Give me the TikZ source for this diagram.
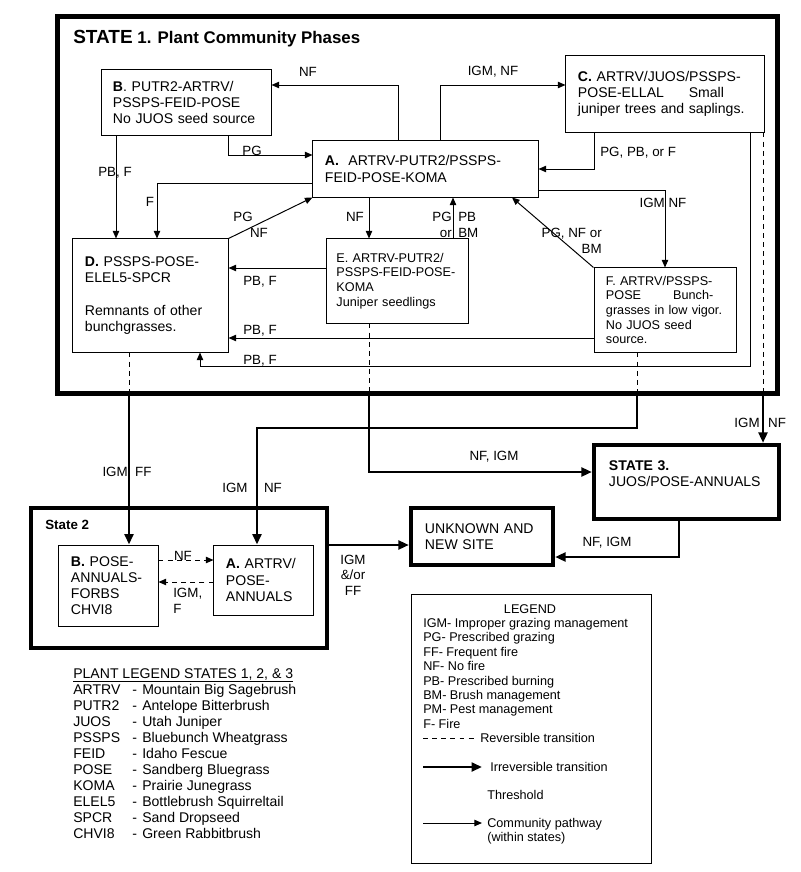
\documentclass[tikz,border=0pt]{standalone}
\usepackage{fontspec}
\setmainfont{Liberation Sans}
\usetikzlibrary{arrows.meta,calc}

\tikzset{
  phase/.style={draw, line width=0.7pt, rectangle, align=left, font=\fontsize{10}{11.5}\selectfont},
  smallphase/.style={phase, font=\fontsize{9}{10.4}\selectfont},
  statebox/.style={draw, rectangle, line width=3pt},
  pathway/.style={line width=0.7pt, ->},
  irrev/.style={line width=1.8pt, -{Triangle[length=2.6mm,width=2.2mm]}},
  revers/.style={line width=0.7pt, dash pattern=on 3.5pt off 3pt},
  lbl/.style={inner sep=0pt, font=\fontsize{9.5}{11}\selectfont},
  leg/.style={inner sep=0pt, font=\fontsize{9}{10.25}\selectfont},
  plant/.style={anchor=base west, inner sep=0pt, font=\fontsize{10}{11.5}\selectfont}
}

\begin{document}
\begin{tikzpicture}[x=0.025cm, y=-0.025cm, >={Triangle[length=1.9mm,width=1.6mm]}]
  \useasboundingbox (0,0) rectangle (800,872);

  % State 1
  \node[statebox, line width=3.5pt, minimum width=17.975cm, minimum height=9.4cm] (S1) at (417.5,205) {};
  \node[anchor=base west, inner sep=0pt, font=\bfseries\fontsize{12}{14}\selectfont] (S1title) at (73,44)
    {{\fontsize{13.5}{14}\selectfont STATE} 1. Plant Community Phases};

  \node[phase, text width=3.675cm, inner xsep=0.275cm, minimum height=1.625cm] (B) at (186.5,102.5)
    {\textbf{B}. PUTR2-ARTRV/\\PSSPS-FEID-POSE\\No JUOS seed source};
  \node[phase, text width=5.025cm, inner xsep=0.3cm, minimum height=1.4cm] (A) at (425.5,169)
    {\textbf{A.}\ \ ARTRV-PUTR2/PSSPS-\\FEID-POSE-KOMA};
  \node[phase, text width=4.35cm, inner xsep=0.3cm, minimum height=1.9cm] (C) at (665,94)
    {\textbf{C.} ARTRV/JUOS/PSSPS-\\POSE-ELLAL\hspace{0.62cm}Small\\juniper trees and saplings.};
  \node[phase, text width=3.275cm, inner xsep=0.3cm, minimum height=2.825cm] (D) at (150.5,295.5)
    {\textbf{D.} PSSPS-POSE-\\ELEL5-SPCR\\[11.5pt]Remnants of other\\bunchgrasses.};
  \node[smallphase, text width=3.05cm, inner xsep=0.2375cm, minimum height=2.1cm] (E) at (397.5,281)
    {E. ARTRV-PUTR2/\\PSSPS-FEID-POSE-\\KOMA\\Juniper seedlings};
  \node[smallphase, text width=2.95cm, inner xsep=0.3cm, minimum height=2.1cm] (F) at (665,310)
    {F. ARTRV/PSSPS-\\POSE\hspace{0.8cm}Bunch-\\grasses in low vigor.\\No JUOS seed\\source.};

  % pathways within state 1
  \coordinate (ab) at (398,85);
  \draw[pathway] (A.north -| ab) -- (ab) -- (B.east |- ab);
  \node[lbl] (lab) at (308,72) {NF};
  \coordinate (ac) at (440,85);
  \draw[pathway] (A.north -| ac) -- (ac) -- (C.west |- ac);
  \node[lbl] (lac) at (493,72) {IGM, NF};
  \coordinate (ba) at (228,155);
  \draw[pathway] (B.south -| ba) -- (ba) -- (A.west |- ba);
  \node[lbl] (lba) at (252,151) {PG};
  \coordinate (bd) at (116,200);
  \draw[pathway] (B.south -| bd) -- (D.north -| bd);
  \node[lbl] (lbd) at (115,173) {PB, F};
  \coordinate (ad) at (157,183);
  \draw[pathway] (A.west |- ad) -- (ad) -- (D.north -| ad);
  \node[lbl] (lad) at (150,202) {F};
  \draw[pathway] (D.north east) -- (A.south west);
  \node[lbl] (lda1) at (243,217) {PG};
  \node[lbl] (lda2) at (259,233) {NF};
  \coordinate (ae) at (369,220);
  \draw[pathway] (A.south -| ae) -- (E.north -| ae);
  \node[lbl] (lae) at (355,217) {NF};
  \coordinate (ea) at (453,220);
  \draw[pathway] (E.north -| ea) -- (A.south -| ea);
  \node[lbl, anchor=east, align=right] (lea1) at (452,225) {PG\\or};
  \node[lbl, anchor=west, align=left] (lea2) at (458,225) {PB\\BM};
  \coordinate (ca) at (594,169);
  \draw[pathway] (C.south -| ca) -- (ca) -- (A.east |- ca);
  \node[lbl, anchor=west] (lca) at (600,153) {PG, PB, or F};
  \coordinate (af) at (665,190);
  \draw[pathway] (A.east |- af) -- (af) -- (F.north);
  \node[lbl] (laf) at (663,203) {IGM NF};
  \coordinate (fa) at (512,200);
  \draw[pathway] (F.north west) -- (A.south -| fa);
  \node[lbl, anchor=east, align=right] (lfa) at (602,241) {PG, NF or\\BM};
  \coordinate (ed) at (300,268);
  \draw[pathway] (E.west |- ed) -- (D.east |- ed);
  \node[lbl] (led) at (260,282) {PB, F};
  \coordinate (fd) at (300,338);
  \draw[pathway] (F.west |- fd) -- (D.east |- fd);
  \node[lbl] (lfd) at (260,331) {PB, F};
  \coordinate (cd1) at (750,366);
  \coordinate (cd2) at (200,366);
  \draw[pathway] (C.south -| cd1) -- (cd1) -- (cd2) -- (D.south -| cd2);
  \node[lbl] (lcd) at (260,361) {PB, F};

  % State 2
  \node[statebox, minimum width=7.4cm, minimum height=3.5cm] (S2) at (179,578) {};
  \node[anchor=base west, inner sep=0pt, font=\bfseries\fontsize{9.5}{11}\selectfont] (S2title) at (45,529) {State 2};
  \node[phase, text width=1.875cm, inner xsep=0.3cm, minimum height=2.025cm] (B2) at (108.5,585.5)
    {\textbf{B.} POSE-\\ANNUALS-\\FORBS\\CHVI8};
  \node[phase, text width=1.875cm, inner xsep=0.3cm, minimum height=1.75cm] (A2) at (263.5,580)
    {\textbf{A.} ARTRV/\\POSE-\\ANNUALS};
  \coordinate (d1) at (185,560);
  \coordinate (d2) at (185,582);
  \draw[revers, ->] (B2.east |- d1) -- (A2.west |- d1);
  \node[lbl] (ld1) at (183,556) {NF};
  \draw[revers, ->] (A2.west |- d2) -- (B2.east |- d2);
  \node[lbl, anchor=west, align=left] (ld2) at (173,601) {IGM,\\F};

  % State 3 and unknown site
  \node[statebox, text width=3.875cm, inner xsep=0.375cm, minimum height=1.85cm, align=left,
        font=\fontsize{10}{11.5}\selectfont] (S3) at (686.5,482)
    {\textbf{STATE 3.}\\JUOS/POSE-ANNUALS\\\mbox{}};
  \node[statebox, text width=2.85cm, inner xsep=0.35cm, minimum height=1.425cm, align=left,
        font=\fontsize{10}{11.5}\selectfont] (U) at (482,536.5)
    {UNKNOWN AND\\NEW SITE};

  % transitions
  \coordinate (tD) at (129,393);
  \draw[revers] (D.south -| tD) -- (tD);
  \draw[irrev] (tD) -- (B2.north -| tD);
  \node[lbl] (ltD) at (127,473) {IGM, FF};
  \coordinate (tE) at (369,393);
  \coordinate (tE2) at (369,472);
  \draw[revers] (E.south -| tE) -- (tE);
  \draw[irrev] (tE) -- (tE2) -- (S3.west |- tE2);
  \node[lbl] (ltE) at (494,457) {NF, IGM};
  \coordinate (tF) at (637,393);
  \coordinate (tF2) at (637,428);
  \coordinate (tF3) at (257,428);
  \draw[revers] (F.south -| tF) -- (tF);
  \draw[irrev] (tF) -- (tF2) -- (tF3) -- (A2.north -| tF3);
  \node[lbl] (ltF1) at (235,488) {IGM};
  \node[lbl] (ltF2) at (273,488) {NF};
  \coordinate (tC) at (763,393);
  \draw[revers] (C.south -| tC) -- (tC);
  \draw[irrev] (tC) -- (S3.north -| tC);
  \node[lbl] (ltC1) at (747,423) {IGM};
  \node[lbl] (ltC2) at (777,423) {NF};
  \coordinate (su) at (370,545);
  \draw[irrev] (S2.east |- su) -- (U.west |- su);
  \node[lbl, align=center] (lsu) at (353,575) {IGM\\\&/or\\FF};
  \coordinate (s3u) at (679,557);
  \draw[irrev] (S3.south -| s3u) -- (s3u) -- (U.east |- s3u);
  \node[lbl] (ls3u) at (607,543) {NF, IGM};

  % plant legend
  \node[plant] (plantlegend) at (73,678) {\underline{PLANT LEGEND STATES 1, 2, \& 3}};
  \foreach \code/\name [count=\i] in {ARTRV/Mountain Big Sagebrush, PUTR2/Antelope Bitterbrush,
      JUOS/Utah Juniper, PSSPS/Bluebunch Wheatgrass, FEID/Idaho Fescue, POSE/Sandberg Bluegrass,
      KOMA/Prairie Junegrass, ELEL5/Bottlebrush Squirreltail, SPCR/Sand Dropseed, CHVI8/Green Rabbitbrush}{
    \node[plant] (code\i) at (73,{678+16*\i}) {\code};
    \node[plant] (dash\i) at (132,{678+16*\i}) {-};
    \node[plant] (name\i) at (142,{678+16*\i}) {\name};
  }

  % legend
  \node[draw, line width=0.7pt, minimum width=5.975cm, minimum height=6.7cm] (legend) at (531.5,729) {};
  \node[leg] (legtitle) at (530,609) {LEGEND};
  \node[leg, anchor=north west, align=left] (legtext) at (423,618)
    {IGM- Improper grazing management\\PG- Prescribed grazing\\FF- Frequent fire\\NF- No fire\\
     PB- Prescribed burning\\BM- Brush management\\PM- Pest management\\F- Fire};
  \coordinate (lr1) at (423,738);
  \coordinate (lr2) at (477,738);
  \draw[revers] (lr1) -- (lr2);
  \node[leg, anchor=west] (lrev) at (480,738) {Reversible transition};
  \coordinate (li1) at (423,767);
  \coordinate (li2) at (482,767);
  \draw[irrev] (li1) -- (li2);
  \node[leg, anchor=west] (lirr) at (490,767) {Irreversible transition};
  \node[leg, anchor=west] (lthr) at (487,795) {Threshold};
  \coordinate (lp1) at (423,823);
  \coordinate (lp2) at (482,823);
  \draw[pathway] (lp1) -- (lp2);
  \node[leg, anchor=west, align=left] (lpath) at (487,831) {Community pathway\\(within states)};
\end{tikzpicture}
\end{document}
